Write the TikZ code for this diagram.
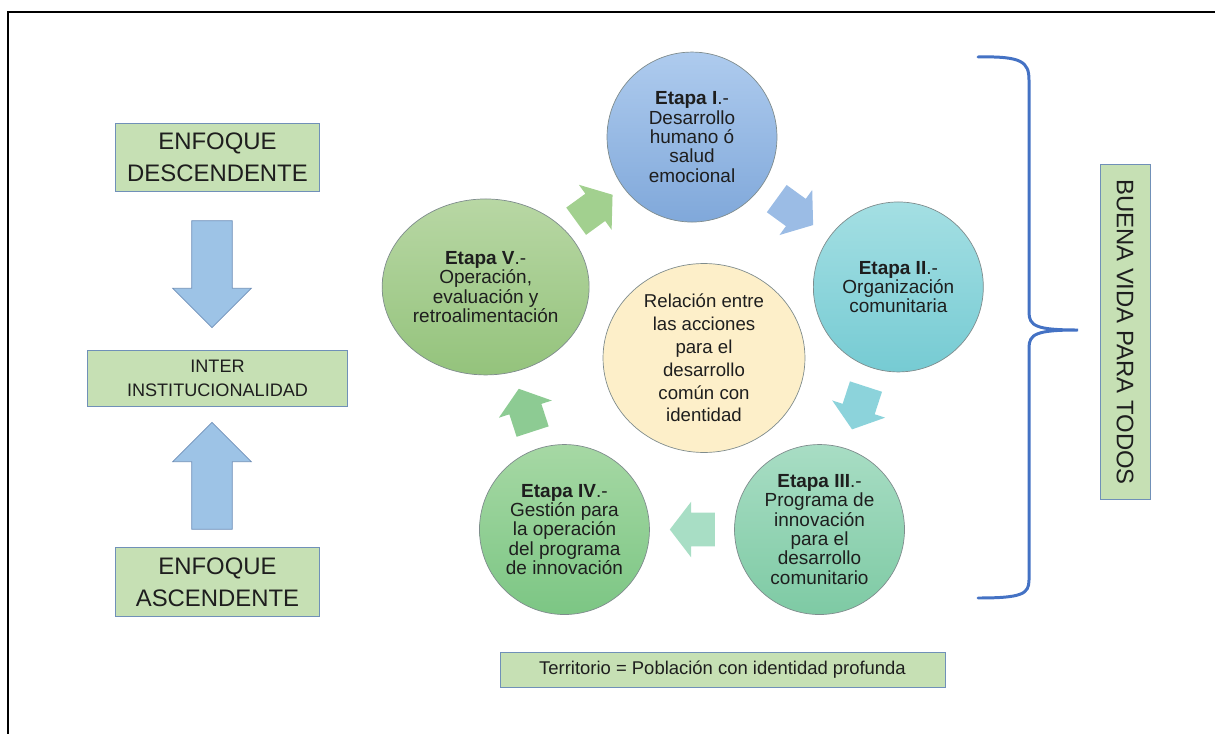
\documentclass[tikz,border=0pt]{standalone}
\usepackage{fontspec}
\setmainfont{Liberation Sans}
\usetikzlibrary{positioning, shapes.geometric, shapes.arrows, calc}

\definecolor{boxgreen}{HTML}{C6E0B4}
\definecolor{boxline}{HTML}{7090B8}
\definecolor{arrowblue}{HTML}{9DC3E6}
\definecolor{braceblue}{HTML}{4472C4}
\definecolor{circline}{HTML}{7F8C8D}
\definecolor{inktext}{HTML}{1E1E1E}
\definecolor{coreyellow}{HTML}{FDEFC9}
% stage colours, top and bottom of each shading
\definecolor{oneTop}{RGB}{174,203,238}
\definecolor{oneBot}{RGB}{128,168,218}
\definecolor{twoTop}{RGB}{164,223,227}
\definecolor{twoBot}{RGB}{118,203,211}
\definecolor{threeTop}{RGB}{168,221,196}
\definecolor{threeBot}{RGB}{126,202,164}
\definecolor{fourTop}{RGB}{166,216,164}
\definecolor{fourBot}{RGB}{124,198,132}
\definecolor{fiveTop}{RGB}{184,215,164}
\definecolor{fiveBot}{RGB}{148,195,124}
% cycle arrows
\definecolor{arrFiveOne}{RGB}{162,208,143}
\definecolor{arrOneTwo}{RGB}{155,188,229}
\definecolor{arrTwoThree}{RGB}{140,211,219}
\definecolor{arrThreeFour}{RGB}{168,222,197}
\definecolor{arrFourFive}{RGB}{141,203,147}

\tikzset{
greenbox/.style={draw=boxline, fill=boxgreen, align=center, inner sep=0pt, text=inktext}, % the plain label boxes
bigarrow/.style={single arrow, draw=boxline, fill=arrowblue, inner xsep=0pt, inner ysep=0.4cm,
  minimum height=2.14cm, single arrow head extend=0.38cm},
stage/.style={circle, draw=circline, line width=0.4pt, minimum size=3.4cm, inner sep=0pt,
  align=center, text=inktext, font=\fontsize{10.8pt}{11pt}\selectfont},
cyclearrow/.style={single arrow, inner xsep=0pt, inner ysep=0.33cm, minimum height=0.9cm,
  single arrow head extend=0.22cm, single arrow tip angle=105, sloped, allow upside down, pos=0.42},
brace/.style={draw=braceblue, line width=1.7pt, line cap=round},
}

\begin{document}
\begin{tikzpicture}[x=0.02cm, y=-0.02cm]
\useasboundingbox (0,0) rectangle (1215,734);
\draw[line width=1.1pt] (8,734) -- (8,12) -- (1215,12);

% left column
\node[greenbox, minimum width=5.2cm, minimum height=1.12cm,
  font=\fontsize{10.3pt}{13.6pt}\selectfont] (inter) at (217.5,378) {INTER\\INSTITUCIONALIDAD};
\node[greenbox, minimum width=4.08cm, minimum height=1.36cm, above=3.16cm of inter,
  font=\fontsize{13.6pt}{18pt}\selectfont] (desc) {ENFOQUE\\DESCENDENTE};
\node[greenbox, minimum width=4.08cm, minimum height=1.38cm, below=2.82cm of inter,
  font=\fontsize{13.6pt}{18pt}\selectfont] (asc) {ENFOQUE\\ASCENDENTE};
\node[bigarrow, rotate=-90] (down) at (212,264) {};
\node[bigarrow, rotate=90] (up) at (212,486) {};

% the cycle
\coordinate (hub) at (692,354);
\node[stage, top color=oneTop, bottom color=oneBot]
  (e1) at ($(hub)+(90:4.34cm)$) {\textbf{Etapa I}.-\\Desarrollo\\humano ó\\salud\\emocional};
\node[stage, top color=twoTop, bottom color=twoBot]
  (e2) at ($(hub)+(18:4.34cm)$) {\textbf{Etapa II}.-\\Organización\\comunitaria};
\node[stage, top color=threeTop, bottom color=threeBot]
  (e3) at ($(hub)+(-54:4.34cm)$) {\textbf{Etapa III}.-\\Programa de\\innovación\\para el\\desarrollo\\comunitario};
\node[stage, top color=fourTop, bottom color=fourBot]
  (e4) at ($(hub)+(-126:4.34cm)$) {\textbf{Etapa IV}.-\\Gestión para\\la operación\\del programa\\de innovación};
\node[stage, ellipse, minimum width=4.14cm, minimum height=3.52cm, top color=fiveTop, bottom color=fiveBot]
  (e5) at ($(hub)+(162:4.34cm)$) {\textbf{Etapa V}.-\\Operación,\\evaluación y\\retroalimentación};
\node[stage, ellipse, fill=coreyellow, minimum width=4.04cm, minimum height=3.78cm,
  font=\fontsize{10.6pt}{13pt}\selectfont] (core) at (704,358)
  {Relación entre\\las acciones\\para el\\desarrollo\\común con\\identidad};

\path (e5) -- node[cyclearrow, fill=arrFiveOne] (a51) {} (e1);
\path (e1) -- node[cyclearrow, fill=arrOneTwo] (a12) {} (e2);
\path (e2) -- node[cyclearrow, fill=arrTwoThree] (a23) {} (e3);
\path (e3) -- node[cyclearrow, fill=arrThreeFour] (a34) {} (e4);
\path (e4) -- node[cyclearrow, fill=arrFourFive] (a45) {} (e5);

% brace and goal
\coordinate (bt) at (978,57);
\coordinate (bm) at (1078,330);
\coordinate (bb) at (978,598);
\draw[brace] (bt) .. controls (1022,56) and (1029,62) .. (1029,80) -- (1029,312)
  .. controls (1029,326) and (1036,330) .. (bm)
  .. controls (1036,330) and (1029,334) .. (1029,348) -- (1029,580)
  .. controls (1029,594) and (1022,598) .. (bb);
\node[greenbox, rotate=-90, minimum width=6.7cm, minimum height=1cm,
  font=\fontsize{13.6pt}{16pt}\selectfont] (goal) at (1125,332) {BUENA VIDA PARA TODOS};

\node[greenbox, minimum width=8.9cm, minimum height=0.7cm,
  font=\fontsize{10.5pt}{12pt}\selectfont] (terr) at (722.5,669.5) {Territorio = Población con identidad profunda};
\end{tikzpicture}
\end{document}
